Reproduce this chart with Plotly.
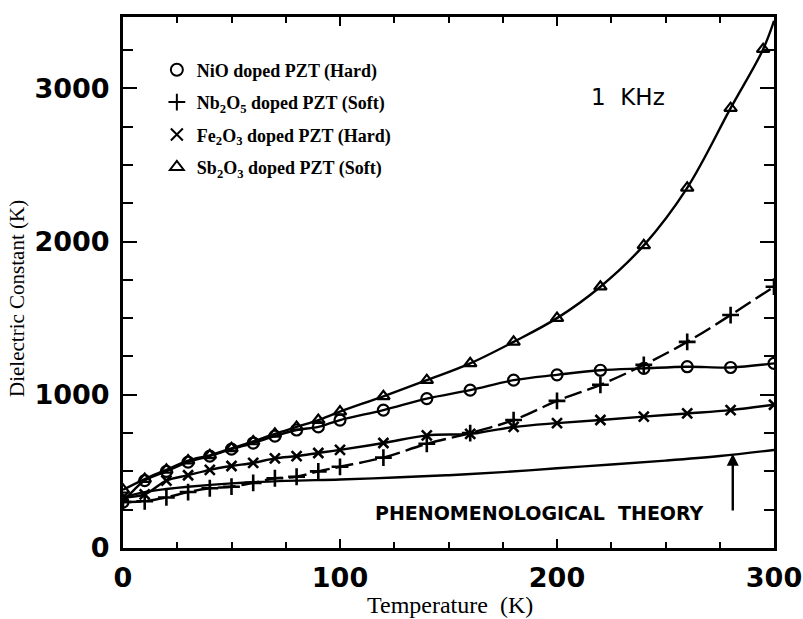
import plotly.graph_objects as go

# ---------------- data ----------------
sb_T = [0, 10, 20, 30, 40, 50, 60, 70, 80, 90, 100, 120, 140, 160, 180, 200, 220, 240, 260, 280, 295]
sb_K = [380, 450, 510, 570, 605, 650, 695, 745, 790, 835, 890, 990, 1095, 1205, 1345, 1500, 1705, 1975, 2350, 2870, 3255]
sb_end_T = [300]
sb_end_K = [3440]

nio_T = [0, 10, 20, 30, 40, 50, 60, 70, 80, 90, 100, 120, 140, 160, 180, 200, 220, 240, 260, 280, 300]
nio_K = [300, 440, 500, 560, 600, 645, 685, 730, 770, 790, 835, 900, 975, 1030, 1095, 1130, 1160, 1172, 1183, 1178, 1205]

fe_T = [0, 10, 20, 30, 40, 50, 60, 70, 80, 90, 100, 120, 140, 160, 180, 200, 220, 240, 260, 280, 300]
fe_K = [330, 350, 440, 475, 510, 535, 555, 585, 600, 620, 640, 685, 735, 745, 790, 815, 835, 857, 878, 900, 935]

nb_T = [0, 10, 20, 30, 40, 50, 60, 70, 80, 90, 100, 120, 140, 160, 180, 200, 220, 240, 260, 280, 300]
nb_K = [300, 305, 330, 365, 390, 400, 425, 455, 465, 500, 530, 590, 680, 750, 835, 960, 1065, 1195, 1345, 1520, 1705]

th_T = [0, 10, 20, 30, 50, 75, 100, 125, 150, 175, 200, 225, 250, 275, 300]
th_K = [330, 365, 385, 400, 422, 438, 447, 460, 475, 495, 520, 545, 570, 600, 640]

legend_names = [
    "NiO doped PZT (Hard)",
    "Nb<sub>2</sub>O<sub>5</sub> doped PZT (Soft)",
    "Fe<sub>2</sub>O<sub>3</sub> doped PZT (Hard)",
    "Sb<sub>2</sub>O<sub>3</sub> doped PZT (Soft)",
]
x_ticks = [0, 100, 200, 300]
y_ticks = [0, 1000, 2000, 3000]
arrow_T = 281
arrow_tip_K = 615
arrow_tail_K = 235

BLACK = "black"
LW = 2.4

fig = go.Figure()

# curves (no legend)
fig.add_trace(go.Scatter(x=th_T, y=th_K, mode="lines", line=dict(color=BLACK, width=LW, shape="spline"),
                         showlegend=False, hoverinfo="skip"))
fig.add_trace(go.Scatter(x=sb_T + sb_end_T, y=sb_K + sb_end_K, mode="lines",
                         line=dict(color=BLACK, width=LW, shape="spline"), showlegend=False))
fig.add_trace(go.Scatter(x=nio_T, y=nio_K, mode="lines", line=dict(color=BLACK, width=LW, shape="spline"),
                         showlegend=False))
fig.add_trace(go.Scatter(x=fe_T, y=fe_K, mode="lines", line=dict(color=BLACK, width=LW, shape="spline"),
                         showlegend=False))
fig.add_trace(go.Scatter(x=nb_T, y=nb_K, mode="lines",
                         line=dict(color=BLACK, width=LW, shape="spline", dash="18px,6px"),
                         showlegend=False))

# markers (legend)
mk_line = dict(color=BLACK, width=2.2)
fig.add_trace(go.Scatter(x=nio_T, y=nio_K, mode="markers", name=legend_names[0], legendgroup="a",
                         marker=dict(symbol="circle-open", size=11, color=BLACK, line=mk_line)))
fig.add_trace(go.Scatter(x=nb_T, y=nb_K, mode="markers", name=legend_names[1], legendgroup="b",
                         marker=dict(symbol="cross-thin-open", size=12, color=BLACK, line=dict(color=BLACK, width=2.6))))
fig.add_trace(go.Scatter(x=fe_T, y=fe_K, mode="markers", name=legend_names[2], legendgroup="c",
                         marker=dict(symbol="x-thin-open", size=10, color=BLACK, line=dict(color=BLACK, width=2.6))))
fig.add_trace(go.Scatter(x=sb_T, y=sb_K, mode="markers", name=legend_names[3], legendgroup="d",
                         marker=dict(symbol="triangle-up-open", size=11, color=BLACK, line=mk_line)))

axis_common = dict(
    showline=True, linecolor=BLACK, linewidth=3, mirror="ticks",
    ticks="inside", tickcolor=BLACK, tickwidth=2.2,
    showgrid=False, zeroline=False, automargin=False,
    tickfont=dict(family="DejaVu Sans", size=27, color=BLACK, weight="bold"),
)

fig.update_layout(
    width=803, height=619,
    margin=dict(l=123, r=29, t=17, b=71, autoexpand=False),
    paper_bgcolor="white", plot_bgcolor="white",
    xaxis=dict(range=[0, 300], tickvals=x_ticks, ticktext=[str(v) for v in x_ticks], ticklen=9,
               ticklabelstandoff=4,
               minor=dict(dtick=25, ticks="inside", ticklen=6, tickwidth=2, tickcolor=BLACK),
               **axis_common),
    yaxis=dict(range=[0, 3465], tickvals=y_ticks, ticktext=[str(v) for v in y_ticks], ticklen=14,
               ticklabelstandoff=5,
               minor=dict(dtick=250, ticks="inside", ticklen=10, tickwidth=2, tickcolor=BLACK),
               **axis_common),
    legend=dict(x=0.052, y=0.935, xanchor="left", yanchor="top", bgcolor="rgba(0,0,0,0)",
                font=dict(family="Liberation Serif", size=18, color=BLACK, weight="bold"),
                traceorder="grouped", tracegroupgap=6, itemsizing="constant"),
    showlegend=True,
)

fig.add_annotation(text="Dielectric Constant (K)", xref="paper", yref="paper", x=-0.162, y=0.47,
                   xanchor="center", yanchor="middle", textangle=-90, showarrow=False,
                   font=dict(family="Liberation Serif", size=21, color=BLACK))
fig.add_annotation(text="Temperature  (K)", xref="paper", yref="paper", x=0.502, y=-0.107,
                   xanchor="center", yanchor="middle", showarrow=False,
                   font=dict(family="Liberation Serif", size=24, color=BLACK))
fig.add_annotation(text="1  KHz", xref="paper", yref="paper", x=0.776, y=0.849,
                   xanchor="center", yanchor="middle", showarrow=False,
                   font=dict(family="DejaVu Sans", size=23, color=BLACK))
fig.add_annotation(text="PHENOMENOLOGICAL  THEORY", xref="paper", yref="paper", x=0.64, y=0.066,
                   xanchor="center", yanchor="middle", showarrow=False,
                   font=dict(family="DejaVu Sans", size=19, color=BLACK, weight="bold"))
fig.add_annotation(x=arrow_T, y=arrow_tip_K, ax=arrow_T, ay=arrow_tail_K, xref="x", yref="y",
                   axref="x", ayref="y", text="", showarrow=True, arrowhead=2, arrowsize=1,
                   arrowwidth=2.4, arrowcolor=BLACK)

fig.write_html("out.html")
